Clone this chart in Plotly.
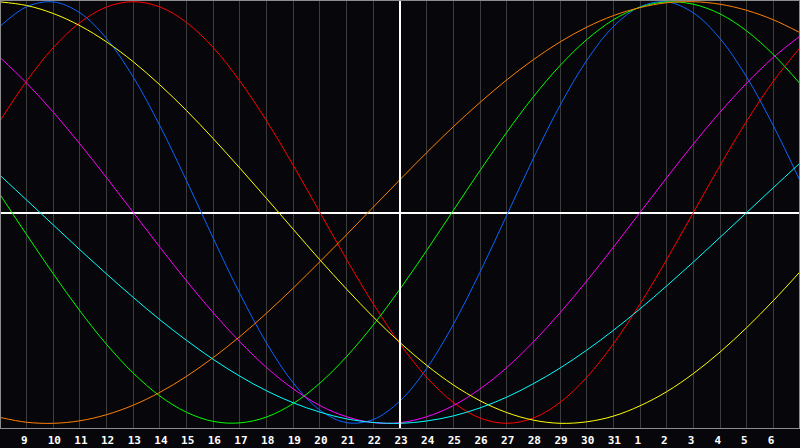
import plotly.graph_objects as go

# one point per day, day 8 of the month on the left edge to day 7 of the next on the right
days = list(range(8, 32)) + list(range(1, 8))
tick_labels = [str(d) for d in days[1:-1]]

# cycle values (-1 .. 1), one per day
blue = [0.882, 0.976, 0.999, 0.947, 0.825, 0.642, 0.411, 0.150, -0.123, -0.386, -0.620, -0.809, -0.938, -0.997,
        -0.982, -0.894, -0.740, -0.531, -0.283, -0.014, 0.257, 0.508, 0.721, 0.882, 0.976, 0.999, 0.947, 0.825,
        0.642, 0.411, 0.150]
red = [0.434, 0.623, 0.782, 0.901, 0.975, 1.000, 0.975, 0.901, 0.782, 0.623, 0.434, 0.223, 0.000, -0.223, -0.434,
       -0.623, -0.782, -0.901, -0.975, -1.000, -0.975, -0.901, -0.782, -0.623, -0.434, -0.223, 0.000, 0.223, 0.434,
       0.623, 0.782]
green = [0.086, -0.105, -0.291, -0.467, -0.626, -0.762, -0.871, -0.948, -0.991, -0.998, -0.970, -0.906, -0.809,
         -0.683, -0.533, -0.363, -0.180, 0.010, 0.199, 0.380, 0.549, 0.697, 0.820, 0.914, 0.974, 0.999, 0.988, 0.942,
         0.861, 0.749, 0.611]
magenta = [0.736, 0.614, 0.476, 0.325, 0.165, 0.000, -0.165, -0.325, -0.476, -0.614, -0.736, -0.837, -0.916, -0.969,
           -0.997, -0.997, -0.969, -0.916, -0.837, -0.736, -0.614, -0.476, -0.325, -0.165, 0.000, 0.165, 0.325, 0.476,
           0.614, 0.736, 0.837]
yellow = [0.999, 0.982, 0.944, 0.886, 0.809, 0.715, 0.605, 0.483, 0.350, 0.210, 0.066, -0.080, -0.225, -0.364,
          -0.496, -0.617, -0.725, -0.818, -0.893, -0.949, -0.985, -1.000, -0.993, -0.966, -0.917, -0.850, -0.764,
          -0.662, -0.546, -0.418, -0.281]
orange = [-0.972, -0.995, -1.000, -0.988, -0.959, -0.914, -0.853, -0.777, -0.688, -0.588, -0.477, -0.358, -0.233,
          -0.105, 0.026, 0.156, 0.284, 0.407, 0.522, 0.629, 0.725, 0.809, 0.879, 0.934, 0.972, 0.995, 1.000, 0.988,
          0.959, 0.914, 0.853]
cyan = [0.177, 0.059, -0.059, -0.177, -0.292, -0.403, -0.509, -0.607, -0.697, -0.777, -0.846, -0.903, -0.947, -0.979,
        -0.996, -1.000, -0.989, -0.965, -0.927, -0.876, -0.812, -0.738, -0.653, -0.559, -0.457, -0.348, -0.235,
        -0.118, 0.000, 0.118, 0.235]

today = 15  # day 23, the white cursor line

series = [
    (blue, '#0a64ff'),
    (red, '#ff0000'),
    (green, '#00ff00'),
    (magenta, '#ff00ff'),
    (yellow, '#ffff00'),
    (orange, '#ff8000'),
    (cyan, '#00ffff'),
]

x = list(range(len(days)))

fig = go.Figure()
for vals, col in series:
    fig.add_trace(go.Scatter(x=x, y=vals, mode='lines', line=dict(color=col, width=1, shape='spline'),
                             hoverinfo='skip'))

fig.add_shape(type='line', xref='x', yref='paper', x0=today, x1=today, y0=0, y1=1,
              line=dict(color='white', width=2))

# pad single digits so every label starts just left of its grid line
ticktext = ['<b>' + (t if len(t) == 2 else t + '\u00a0') + '</b>' for t in tick_labels]

fig.update_layout(
    width=800, height=448,
    margin=dict(l=1, r=1, t=1, b=20),
    paper_bgcolor='#07070b',
    plot_bgcolor='#07070b',
    showlegend=False,
    xaxis=dict(
        range=[0.04, len(days) - 1 - 0.04],
        tickmode='array',
        tickvals=x[1:-1],
        ticktext=ticktext,
        showgrid=True, gridcolor='#3c3c3c', gridwidth=1,
        showline=True, mirror=True, linecolor='#8c8c8c', linewidth=1,
        zeroline=False, ticks='',
        ticklabelshift=1, ticklabelstandoff=2,
        automargin=False,
        tickfont=dict(family='DejaVu Sans Mono', size=11, color='white'),
    ),
    yaxis=dict(
        range=[-1.0223, 1.0033],
        showgrid=False, showticklabels=False,
        zeroline=True, zerolinecolor='white', zerolinewidth=2,
        showline=True, mirror=True, linecolor='#8c8c8c', linewidth=1,
    ),
)

fig.write_html("out.html", config={'displayModeBar': False},
               post_script="document.body.style.margin='0';")
